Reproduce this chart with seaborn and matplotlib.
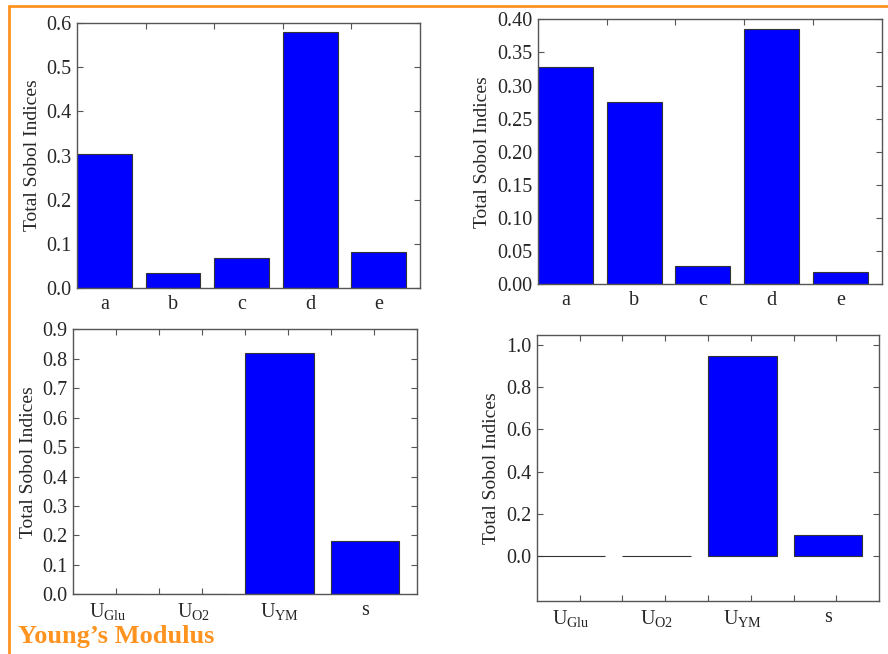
import numpy as np
import pandas as pd
import matplotlib.pyplot as plt
import matplotlib.lines as mlines
import seaborn as sns

sns.set_style("white")
plt.rcParams['font.family'] = 'serif'
plt.rcParams['font.serif'] = ['Liberation Serif', 'DejaVu Serif']
plt.rcParams['mathtext.fontset'] = 'custom'
plt.rcParams['mathtext.rm'] = 'Liberation Serif'
plt.rcParams['mathtext.it'] = 'Liberation Serif:italic'
plt.rcParams['mathtext.bf'] = 'Liberation Serif:bold'

# data
params_top = ['a', 'b', 'c', 'd', 'e']
sobol_tl = [0.303, 0.034, 0.067, 0.579, 0.082]
sobol_tr = [0.328, 0.275, 0.028, 0.386, 0.018]

params_bottom = [r'$\mathrm{U}_{\mathrm{Glu}}$', r'$\mathrm{U}_{\mathrm{O2}}$',
                 r'$\mathrm{U}_{\mathrm{YM}}$', 's']
sobol_bl = [0.0, 0.0, 0.818, 0.182]
sobol_br = [0.0, 0.0, 0.948, 0.099]

orange = '#FF9320'
fs = 14.5

fig = plt.figure(figsize=(8.88, 6.54), dpi=100)

axes_pos = {
    'tl': [0.0867, 0.5596, 0.3863, 0.4052],
    'tr': [0.6055, 0.5653, 0.3877, 0.4052],
    'bl': [0.0825, 0.0913, 0.3867, 0.4052],
    'br': [0.6044, 0.0815, 0.3858, 0.4063],
}


def draw(pos, labels, values, ylim, yticks, yfmt, tick_step):
    ax = fig.add_axes(pos)
    df = pd.DataFrame({'param': labels, 'value': values})
    sns.barplot(data=df, x='param', y='value', ax=ax, color='#0000FF',
                saturation=1, width=0.8, edgecolor='#333333', linewidth=0.8)
    n = len(labels)
    ax.set_xlim(-0.4, n - 0.4)
    ax.set_ylim(*ylim)
    ax.set_yticks(yticks)
    ax.set_yticklabels([yfmt % v for v in yticks], fontsize=fs)
    # tick marks every tick_step in bar-edge coordinates, labels at bar centres
    major = np.arange(tick_step, n, tick_step) - 0.4
    ax.set_xticks(major)
    ax.set_xticklabels([])
    ax.set_xticks(np.arange(n), minor=True)
    ax.set_xticklabels(labels, minor=True, fontsize=fs)
    ax.tick_params(axis='x', which='major', direction='in', length=4,
                   top=True, bottom=True, color='#555555', width=0.8)
    ax.tick_params(axis='x', which='minor', length=0, pad=5)
    ax.tick_params(axis='y', direction='in', length=4, left=True, right=True,
                   color='#555555', width=0.8, pad=4)
    ax.set_xlabel('')
    ax.set_ylabel('Total Sobol Indices', fontsize=14, labelpad=4)
    for s in ax.spines.values():
        s.set_color('#555555')
        s.set_linewidth(1.0)
    return ax


draw(axes_pos['tl'], params_top, sobol_tl, (0, 0.6),
     np.round(np.arange(0, 0.61, 0.1), 2), '%.1f', 1)
draw(axes_pos['tr'], params_top, sobol_tr, (0, 0.40),
     np.round(np.arange(0, 0.401, 0.05), 2), '%.2f', 1)
draw(axes_pos['bl'], params_bottom, sobol_bl, (0, 0.9),
     np.round(np.arange(0, 0.91, 0.1), 2), '%.1f', 0.5)
draw(axes_pos['br'], params_bottom, sobol_br, (-0.21, 1.045),
     np.round(np.arange(0, 1.01, 0.2), 2), '%.1f', 0.5)

# orange slide frame
fig.add_artist(mlines.Line2D([8.5 / 888, 1], [1 - 6 / 654, 1 - 6 / 654],
                             color=orange, linewidth=2, transform=fig.transFigure))
fig.add_artist(mlines.Line2D([8.5 / 888, 8.5 / 888], [0, 1 - 6 / 654],
                             color=orange, linewidth=2, transform=fig.transFigure))

fig.text(18 / 888, 1 - 643 / 654, 'Young\u2019s Modulus', color=orange,
         fontsize=19, fontweight='bold', ha='left', va='baseline')

fig.savefig('out.png', dpi=100)
